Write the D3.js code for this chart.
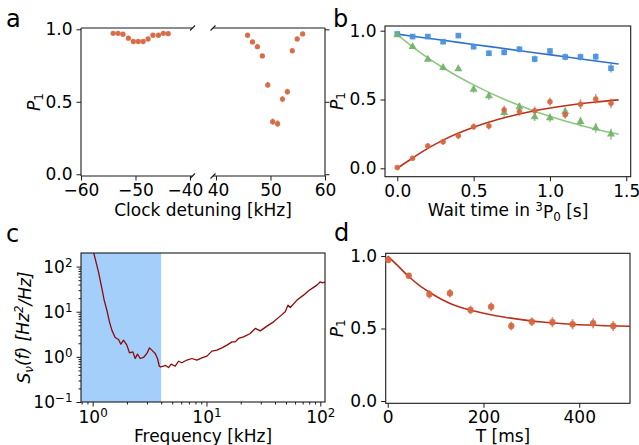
<!DOCTYPE html>
<html><head><meta charset="utf-8">
<script src="https://cdn.jsdelivr.net/npm/d3@7"></script>
<style>body{margin:0;background:#fff} svg text{font-family:"DejaVu Sans",sans-serif}</style>
</head><body><script>
// ---------- DATA ----------
// Panel a: clock detuning scan (kHz) vs P1
const aLeftX = [-54.1,-53.2,-52.3,-51.3,-50.4,-49.5,-48.6,-47.7,-46.8,-45.8,-44.9,-44.0];
const aLeftY = [0.972,0.972,0.966,0.939,0.916,0.916,0.916,0.933,0.959,0.959,0.972,0.970];
const aLeftErr = [0.008,0.008,0.008,0.01,0.01,0.01,0.01,0.01,0.008,0.008,0.008,0.008];
const aRightX = [45.8,46.7,47.6,48.5,49.5,50.4,51.3,52.2,53.1,54.0,54.9,55.9];
const aRightY = [0.959,0.913,0.880,0.816,0.616,0.363,0.349,0.519,0.570,0.852,0.933,0.968];
const aRightErr = [0.008,0.01,0.01,0.012,0.02,0.022,0.024,0.022,0.02,0.012,0.01,0.008];
const aTicksL = [-60,-50,-40];
const aTicksR = [40,50,60];
const pTicks = [0,0.5,1.0];

// Panel b: wait time in 3P0 (s)
const bT = [0,0.1,0.2,0.3,0.4,0.5,0.6,0.7,0.8,0.9,1.0,1.1,1.2,1.3,1.4];
const bBlue = [0.976,0.957,0.957,0.920,0.964,0.884,0.836,0.843,0.865,0.794,0.852,0.809,0.809,0.811,0.727];
const bBlueErr = [0.01,0.012,0.012,0.015,0.012,0.02,0.02,0.022,0.022,0.025,0.022,0.025,0.025,0.025,0.03];
const bGreen = [0.969,0.884,0.792,0.731,0.722,0.574,0.525,0.405,0.446,0.373,0.366,0.411,0.339,0.294,0.248];
const bGreenErr = [0.01,0.015,0.015,0.02,0.015,0.025,0.028,0.03,0.03,0.03,0.03,0.03,0.035,0.035,0.04];
const bRed = [0.005,0.073,0.162,0.193,0.237,0.302,0.307,0.424,0.411,0.419,0.484,0.390,0.466,0.504,0.472];
const bRedErr = [0.008,0.015,0.02,0.022,0.025,0.025,0.025,0.03,0.03,0.03,0.03,0.03,0.035,0.035,0.035];
const bFitT = [0,0.1,0.2,0.3,0.5,0.7,0.9,1.1,1.3,1.45];
const bBlueFit = [0.975,0.960,0.945,0.930,0.900,0.870,0.840,0.810,0.780,0.758];
const bGreenFit = [0.970,0.883,0.803,0.731,0.606,0.501,0.415,0.344,0.284,0.247];
const bRedFit = [0.0,0.075,0.145,0.205,0.298,0.367,0.418,0.455,0.482,0.497];
const bTicksX = [0,0.5,1.0,1.5];

// Panel c: noise spectrum
const cFreq = [1.016,1.125,1.205,1.262,1.333,1.405,1.475,1.577,1.686,1.77,1.866,1.998,2.106,2.256,2.364,2.476,2.616,2.797,2.996,3.158,3.314,3.543,3.713,3.85,3.95,4.19,4.34,4.64,4.90,5.31,5.68,6.08,6.73,7.45,8.24,9.12,10.09,11.17,12.36,13.67,15.13,16.74,17.89,19.13,21.17,24.25,26.83,29.69,34.0,38.86,44.5,49.2,52.0,54.5,62.4,71.3,78.9,87.3,93.5,100,104.8,110.6];
const cPsd = [213,76.7,32.9,18.1,10.8,5.97,3.91,2.69,2.43,1.91,2.34,1.82,1.23,1.29,0.92,1.15,0.92,0.97,1.19,1.58,1.41,1.19,0.92,0.62,0.60,0.62,0.65,0.58,0.69,0.62,0.80,0.74,0.85,0.92,0.85,0.95,1.04,1.34,1.41,1.58,1.82,2.15,2.15,2.56,2.78,3.30,4.26,3.77,4.80,5.97,7.99,9.95,14.0,12.4,18.1,23.3,29.1,34.6,38.9,46.0,43.7,46.0];
const cBand = [0.79,4.0];
const cTicksX = [1,10,100];
const cMinorX = [0.8,0.9,2,3,4,5,6,7,8,9,20,30,40,50,60,70,80,90];
const cTicksY = [0.1,1,10,100];
const cMinorY = [0.2,0.3,0.4,0.5,0.6,0.7,0.8,0.9,2,3,4,5,6,7,8,9,20,30,40,50,60,70,80,90];

// Panel d: P1 vs T (ms)
const dT = [1,44,87,130,173,216,258,301,344,386,429,471];
const dP = [0.972,0.864,0.736,0.743,0.628,0.650,0.517,0.547,0.543,0.529,0.536,0.517];
const dErr = [0.015,0.02,0.03,0.03,0.03,0.03,0.03,0.03,0.035,0.035,0.035,0.035];
const dFitT = [0,22,45,64,88,113,134,172,203,245,287,328,384,454,506];
const dFitP = [1.0,0.93,0.855,0.802,0.748,0.700,0.668,0.628,0.604,0.578,0.558,0.543,0.529,0.519,0.515];
const dTicksX = [0,200,400];

// ---------- STYLE ----------
const FS = 17, INK = "#1a1a1a";
const cOrange = "#d5653f", cRedLine = "#b8321b";
const cBlue = "#4a8fe0", cBlueLine = "#2f72c4";
const cGreen = "#74b26a", cGreenLine = "#8cc87f";
const cDark = "#8b0a0a", cShade = "#a3cffa";

const svg = d3.select("body").append("svg").attr("width",639).attr("height",445).style("background","#fff");
svg.append("rect").attr("width",639).attr("height",445).attr("fill","#fff");

function styleAxis(g){
  g.attr("font-size",FS).attr("font-family","DejaVu Sans");
  g.select(".domain").remove();
  g.selectAll(".tick line").attr("stroke",INK).attr("stroke-width",1);
  g.selectAll(".tick text").attr("fill","#000");
  return g;
}
function spine(x1,y1,x2,y2){
  svg.append("line").attr("x1",x1).attr("y1",y1).attr("x2",x2).attr("y2",y2)
    .attr("stroke",INK).attr("stroke-width",1.1);
}
function pLabel(x,y){
  const t = svg.append("text").attr("transform",`translate(${x},${y}) rotate(-90)`)
    .attr("text-anchor","middle").attr("font-size",FS);
  t.append("tspan").attr("font-style","italic").text("P");
  t.append("tspan").attr("dy","0.25em").attr("font-size","0.7em").text("1");
}
function panelLetter(x,y,s){
  svg.append("text").attr("x",x).attr("y",y).attr("font-size",24).text(s);
}
function errorBars(g,xs,ys,es,x,y,color,w){
  g.selectAll(null).data(xs).enter().append("line")
    .attr("x1",(d)=>x(d)).attr("x2",(d)=>x(d))
    .attr("y1",(d,i)=>y(ys[i]-es[i])).attr("y2",(d,i)=>y(ys[i]+es[i]))
    .attr("stroke",color).attr("stroke-width",w||1.6).attr("opacity",0.7);
}
function symbols(g,xs,ys,x,y,type,size,color){
  g.selectAll(null).data(xs).enter().append("path")
    .attr("d",d3.symbol().type(type).size(size))
    .attr("transform",(d,i)=>`translate(${x(d)},${y(ys[i])})`)
    .attr("fill",color).attr("opacity",0.92);
}
function supLabels(g){
  g.selectAll(".tick text").each(function(d){
    const e = Math.round(Math.log10(d));
    const t = d3.select(this); t.text(null);
    t.append("tspan").text("10");
    t.append("tspan").attr("dy","-0.5em").attr("font-size","0.7em").text(e<0?"\u2212"+(-e):String(e));
  });
}

// ---------- PANEL A ----------
const aY = d3.scaleLinear().domain([-0.012,1.009]).range([176,28]);
const aXL = d3.scaleLinear().domain([-60,-39.54]).range([81,192.5]);
const aXR = d3.scaleLinear().domain([39.45,60]).range([213,325]);
const axL = styleAxis(svg.append("g").attr("transform","translate(0,176)")
  .call(d3.axisBottom(aXL).tickValues(aTicksL).tickFormat(d3.format("d")).tickSize(4.5).tickPadding(3.5).tickSizeOuter(0)));
axL.selectAll(".tick text").filter((d)=>d===-40).attr("dx",-5);
const axR = styleAxis(svg.append("g").attr("transform","translate(0,176)")
  .call(d3.axisBottom(aXR).tickValues(aTicksR).tickFormat(d3.format("d")).tickSize(4.5).tickPadding(3.5).tickSizeOuter(0)));
axR.selectAll(".tick text").filter((d)=>d===40).attr("dx",2);
styleAxis(svg.append("g").attr("transform","translate(81,0)")
  .call(d3.axisLeft(aY).tickValues(pTicks).tickFormat(d3.format(".1f")).tickSize(4.5).tickPadding(4).tickSizeOuter(0)));
styleAxis(svg.append("g").attr("transform","translate(325,0)")
  .call(d3.axisRight(aY).tickValues(pTicks).tickFormat("").tickSize(4.5).tickSizeOuter(0)));
spine(81,28,81,176); spine(81,28,192.5,28); spine(81,176,192.5,176);
spine(213,28,325,28); spine(213,176,325,176); spine(325,28,325,176);
[[192.5,28],[192.5,176],[213,28],[213,176]].forEach(([x,y])=>spine(x-2.5,y+2.5,x+2.5,y-2.5));
const ga = svg.append("g");
errorBars(ga,aLeftX,aLeftY,aLeftErr,aXL,aY,cOrange,1.5);
errorBars(ga,aRightX,aRightY,aRightErr,aXR,aY,cOrange,1.5);
symbols(ga,aLeftX,aLeftY,aXL,aY,d3.symbolCircle,22,cOrange);
symbols(ga,aRightX,aRightY,aXR,aY,d3.symbolCircle,22,cOrange);
svg.append("text").attr("x",203).attr("y",216).attr("text-anchor","middle").attr("font-size",FS).text("Clock detuning [kHz]");
pLabel(40,102);
panelLetter(6,27,"a");

// ---------- PANEL B ----------
const bX = d3.scaleLinear().domain([-0.0806,1.529]).range([385,630.7]);
const bY = d3.scaleLinear().domain([-0.061,1.034]).range([176.7,26]);
styleAxis(svg.append("g").attr("transform","translate(0,176.7)")
  .call(d3.axisBottom(bX).tickValues(bTicksX).tickFormat(d3.format(".1f")).tickSize(4.5).tickPadding(3.5).tickSizeOuter(0)));
styleAxis(svg.append("g").attr("transform","translate(385,0)")
  .call(d3.axisLeft(bY).tickValues(pTicks).tickFormat(d3.format(".1f")).tickSize(4.5).tickPadding(4).tickSizeOuter(0)));
svg.append("rect").attr("x",385).attr("y",26).attr("width",245.7).attr("height",150.7)
  .attr("fill","none").attr("stroke",INK).attr("stroke-width",1.1);
const gb = svg.append("g");
const bLine = (arr)=>d3.line().x((d,i)=>bX(bFitT[i])).y((d)=>bY(d)).curve(d3.curveMonotoneX)(arr);
gb.append("path").attr("d",bLine(bBlueFit)).attr("fill","none").attr("stroke",cBlueLine).attr("stroke-width",1.6);
gb.append("path").attr("d",bLine(bGreenFit)).attr("fill","none").attr("stroke",cGreenLine).attr("stroke-width",1.6);
gb.append("path").attr("d",bLine(bRedFit)).attr("fill","none").attr("stroke",cRedLine).attr("stroke-width",1.6);
errorBars(gb,bT,bBlue,bBlueErr,bX,bY,cBlue,1.6);
errorBars(gb,bT,bGreen,bGreenErr,bX,bY,cGreen,1.6);
errorBars(gb,bT,bRed,bRedErr,bX,bY,cOrange,1.6);
symbols(gb,bT,bBlue,bX,bY,d3.symbolSquare,32,cBlue);
symbols(gb,bT,bGreen,bX,bY,d3.symbolTriangle,28,cGreen);
symbols(gb,bT,bRed,bX,bY,d3.symbolCircle,24,cOrange);
{
  const t = svg.append("text").attr("x",508).attr("y",216).attr("text-anchor","middle").attr("font-size",FS);
  t.append("tspan").text("Wait time in ");
  t.append("tspan").attr("dy","-0.4em").attr("font-size","0.7em").text("3");
  t.append("tspan").attr("dy","0.4em").text("P");
  t.append("tspan").attr("dy","0.25em").attr("font-size","0.7em").text("0");
  t.append("tspan").attr("dy","-0.25em").text(" [s]");
}
pLabel(342.5,101);
panelLetter(333,27,"b");

// ---------- PANEL C ----------
const cX = d3.scaleLog().domain([0.79,110]).range([81,325]);
const cY = d3.scaleLog().domain([0.1,200]).range([402,253]);
svg.append("defs").append("clipPath").attr("id","clipc").append("rect")
  .attr("x",81).attr("y",253).attr("width",244).attr("height",149);
svg.append("rect").attr("x",cX(cBand[0])).attr("y",253).attr("width",cX(cBand[1])-cX(cBand[0])).attr("height",149)
  .attr("fill",cShade);
svg.append("path").attr("clip-path","url(#clipc)")
  .attr("d",d3.line().x((d,i)=>cX(cFreq[i])).y((d)=>cY(d))(cPsd))
  .attr("fill","none").attr("stroke",cDark).attr("stroke-width",1.3).attr("stroke-linejoin","round");
const cxAxis = styleAxis(svg.append("g").attr("transform","translate(0,402)")
  .call(d3.axisBottom(cX).tickValues(cTicksX).tickSize(4.5).tickPadding(4).tickSizeOuter(0)));
supLabels(cxAxis);
styleAxis(svg.append("g").attr("transform","translate(0,402)")
  .call(d3.axisBottom(cX).tickValues(cMinorX).tickFormat("").tickSize(2.5).tickSizeOuter(0)));
const cyAxis = styleAxis(svg.append("g").attr("transform","translate(81,0)")
  .call(d3.axisLeft(cY).tickValues(cTicksY).tickSize(4.5).tickPadding(4).tickSizeOuter(0)));
supLabels(cyAxis);
styleAxis(svg.append("g").attr("transform","translate(81,0)")
  .call(d3.axisLeft(cY).tickValues(cMinorY).tickFormat("").tickSize(2.5).tickSizeOuter(0)));
svg.append("rect").attr("x",81).attr("y",253).attr("width",244).attr("height",149)
  .attr("fill","none").attr("stroke",INK).attr("stroke-width",1.1);
svg.append("text").attr("x",203).attr("y",442).attr("text-anchor","middle").attr("font-size",FS).text("Frequency [kHz]");
{
  const t = svg.append("text").attr("transform","translate(30,327.5) rotate(-90)")
    .attr("text-anchor","middle").attr("font-size",FS).attr("font-style","italic");
  t.append("tspan").text("S");
  t.append("tspan").attr("dy","0.25em").attr("font-size","0.7em").text("ν");
  t.append("tspan").attr("dy","-0.25em").text("(f) [Hz");
  t.append("tspan").attr("dy","-0.45em").attr("font-size","0.7em").text("2");
  t.append("tspan").attr("dy","0.45em").text("/Hz]");
}
panelLetter(6,242,"c");

// ---------- PANEL D ----------
const dX = d3.scaleLinear().domain([-4.2,506]).range([385.7,630]);
const dY = d3.scaleLinear().domain([-0.0159,1.0186]).range([403.3,253.3]);
styleAxis(svg.append("g").attr("transform","translate(0,403.3)")
  .call(d3.axisBottom(dX).tickValues(dTicksX).tickFormat(d3.format("d")).tickSize(4.5).tickPadding(3.5).tickSizeOuter(0)));
styleAxis(svg.append("g").attr("transform","translate(385.7,0)")
  .call(d3.axisLeft(dY).tickValues(pTicks).tickFormat(d3.format(".1f")).tickSize(4.5).tickPadding(4).tickSizeOuter(0)));
svg.append("rect").attr("x",385.7).attr("y",253.3).attr("width",244.3).attr("height",150)
  .attr("fill","none").attr("stroke",INK).attr("stroke-width",1.1);
const gd = svg.append("g");
gd.append("path").attr("d",d3.line().x((d,i)=>dX(dFitT[i])).y((d)=>dY(d)).curve(d3.curveMonotoneX)(dFitP))
  .attr("fill","none").attr("stroke",cRedLine).attr("stroke-width",1.6);
errorBars(gd,dT,dP,dErr,dX,dY,cOrange,1.8);
symbols(gd,dT,dP,dX,dY,d3.symbolCircle,32,cOrange);
svg.append("text").attr("x",503).attr("y",442).attr("text-anchor","middle").attr("font-size",FS).text("T [ms]");
pLabel(342.5,328.3);
panelLetter(334,241,"d");
</script></body></html>
